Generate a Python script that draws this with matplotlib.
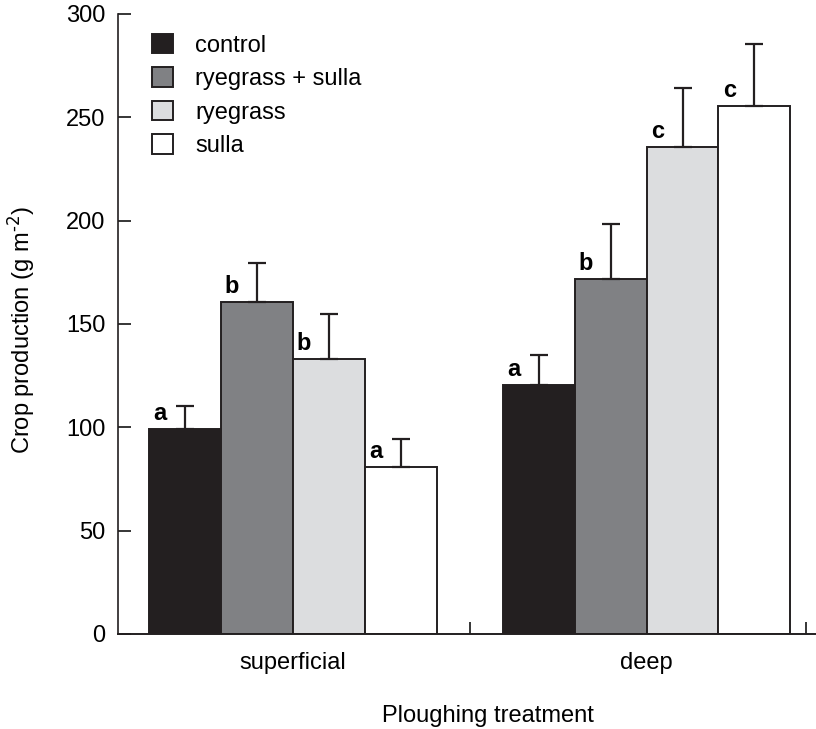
import matplotlib
matplotlib.use("Agg")
import matplotlib.pyplot as plt
import numpy as np

# data
groups = ['superficial', 'deep']
treatments = ['control', 'ryegrass + sulla', 'ryegrass', 'sulla']
means_sup = [99, 160.5, 133, 81]
err_sup = [11.5, 19, 22, 13.5]
means_deep = [120.5, 172, 235.5, 255.5]
err_deep = [14.5, 26.5, 28.5, 30]
letters_sup = ['a', 'b', 'b', 'a']
letters_deep = ['a', 'b', 'c', 'c']

colors = ['#231f20', '#808184', '#dcdddf', '#ffffff']
edge = '#231f20'

plt.rcParams['font.family'] = ['Liberation Sans', 'DejaVu Sans']
plt.rcParams['font.size'] = 17
plt.rcParams['mathtext.default'] = 'regular'

fig = plt.figure(figsize=(8.16, 7.29), dpi=100)
fig.patch.set_facecolor('white')
ax = fig.add_axes([118/816, 95/729, 1 - 118/816, 620/729])

w = 0.203
xg = np.arange(len(groups))
for i, t in enumerate(treatments):
    vals = [means_sup[i], means_deep[i]]
    errs = [err_sup[i], err_deep[i]]
    pos = xg + (i - 1.5) * w
    ax.bar(pos, vals, w, color=colors[i], edgecolor=edge, linewidth=1.4,
           yerr=[[0, 0], errs], capsize=6.5,
           error_kw=dict(elinewidth=1.6, capthick=1.6, ecolor=edge),
           label=t, zorder=2)
    for p, v, lab in zip(pos, vals, [letters_sup[i], letters_deep[i]]):
        ax.annotate(lab, (p, v), xytext=(-25, 4), textcoords='offset pixels',
                    ha='center', va='bottom', fontsize=17, fontweight='bold')

ax.set_xlim(-0.495, 1.479)
ax.set_ylim(0, 300)
ax.set_yticks([0, 50, 100, 150, 200, 250, 300])
ax.set_xticks(xg)
ax.set_xticklabels(groups)
ax.set_xticks([0.5, 1.451], minor=True)

ax.tick_params(axis='y', direction='in', length=9.4, width=1.1, pad=9)
ax.tick_params(axis='x', which='major', length=0, pad=13)
ax.tick_params(axis='x', which='minor', direction='in', length=8.5, width=1.1)

for s in ['top', 'right']:
    ax.spines[s].set_visible(False)
ax.spines['left'].set_linewidth(1.2)
ax.spines['bottom'].set_linewidth(1.4)
ax.spines['left'].set_color(edge)
ax.spines['bottom'].set_color(edge)

ax.set_ylabel(r'Crop production (g m$^{\text{-2}}$)')
ax.yaxis.set_label_coords(-0.116, 0.49)
ax.set_xlabel('Ploughing treatment')
ax.xaxis.set_label_coords(0.530, -0.114)

leg = ax.legend(loc='upper left', bbox_to_anchor=(152/816, 1 - 34/729),
                bbox_transform=fig.transFigure, frameon=False, borderpad=0,
                borderaxespad=0, handlelength=0.88, handleheight=0.88,
                handletextpad=0.95, labelspacing=0.45, fontsize=17)
for h in leg.legend_handles:
    h.set_linewidth(1.4)

fig.savefig('out.png', dpi=100)
